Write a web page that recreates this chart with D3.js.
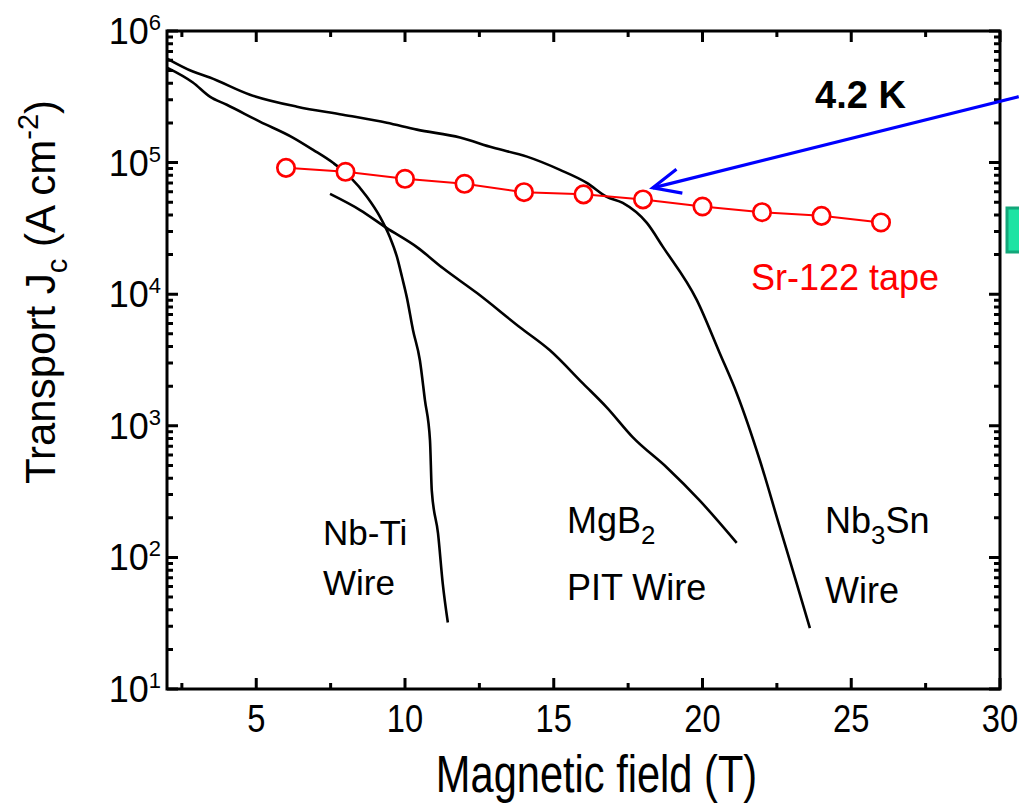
<!DOCTYPE html>
<html>
<head>
<meta charset="utf-8">
<script src="https://cdn.jsdelivr.net/npm/d3@7"></script>
<style>
  html, body { margin: 0; padding: 0; background: #fff; }
  svg { display: block; font-family: Arial, "Liberation Sans", sans-serif; }
</style>
</head>
<body>
<svg id="chart" width="1019" height="809"></svg>
<script>
// ---------- data ----------
const xTicks = [5, 10, 15, 20, 25, 30];
const xMinorTicks = [2.5, 7.5, 12.5, 17.5, 22.5, 27.5];
const yExponents = [1, 2, 3, 4, 5, 6];

const srField = [6, 8, 10, 12, 14, 16, 18, 20, 22, 24, 26];
const srJc = [91200, 85100, 75300, 69000, 59600, 57400, 52500, 46400, 42000, 39400, 35100];

const nbtiField = [2, 2.87, 3.44, 4.01, 5.12, 6.23, 6.91, 7.58, 8.15, 8.72, 9.16, 9.49, 9.73, 9.90, 10.06, 10.27, 10.50, 10.67, 10.84, 10.90, 11.11, 11.27, 11.44];
const nbtiJc = [527000, 406000, 317000, 275000, 205000, 155000, 125000, 99600, 78000, 55000, 38700, 27200, 19200, 13500, 9500, 5330, 3150, 1565, 775, 322, 152, 63, 32];

const nb3snField = [2, 2.87, 3.44, 4.79, 6.37, 7.91, 9.39, 10.40, 11.85, 12.95, 14.10, 15.21, 16.11, 16.78, 17.32, 18.13, 18.67, 19.81, 20.58, 21.15, 21.93, 22.60, 23.17, 23.61];
const nb3snJc = [618000, 492000, 443000, 328000, 266000, 231000, 201000, 178000, 155000, 130000, 111000, 88100, 70200, 54900, 49400, 34800, 22900, 9020, 3560, 1770, 545, 169, 63, 29];

const mgb2Field = [7.48, 8.49, 9.39, 10.40, 11.27, 12.42, 13.86, 14.87, 15.98, 16.78, 17.66, 18.80, 19.91, 21.15];
const mgb2Jc = [57800, 43600, 31800, 22800, 15800, 10200, 5610, 3750, 2100, 1380, 816, 482, 270, 129];

const arrowFrom = [30.63, 317000];
const arrowTo = [18.33, 64300];

// ---------- layout ----------
const L = 167, R = 1000, T = 31, B = 689;
const svg = d3.select("#chart");

const x = d3.scaleLinear().domain([2, 30]).range([L, R]);
const y = d3.scaleLog().domain([10, 1e6]).range([B, T]);

const yMajor = yExponents.map(e => Math.pow(10, e));
const yMinor = [];
for (let e = 1; e < 6; e++) for (let m = 2; m <= 9; m++) yMinor.push(m * Math.pow(10, e));

// ---------- ticks (inward, all four sides) as one path ----------
let td = "";
function addX(vals, len) {
  vals.forEach(v => {
    const px = x(v);
    td += `M${px},${B}L${px},${B - len}`;
    td += `M${px},${T}L${px},${T + len}`;
  });
}
function addY(vals, len) {
  vals.forEach(v => {
    const py = y(v);
    td += `M${L},${py}L${L + len},${py}`;
    td += `M${R},${py}L${R - len},${py}`;
  });
}
addX(xTicks, 11);
addX(xMinorTicks, 6);
addY(yMajor, 11);
addY(yMinor, 6);

// frame
svg.append("rect").attr("x", L).attr("y", T).attr("width", R - L).attr("height", B - T)
  .attr("fill", "none").attr("stroke", "#000").attr("stroke-width", 3);

svg.append("path").attr("class", "ticks").attr("d", td)
  .attr("fill", "none").attr("stroke", "#000").attr("stroke-width", 3);

// x tick labels (condensed look)
xTicks.forEach(v => {
  svg.append("text")
    .attr("transform", `translate(${x(v)},${B + 43}) scale(0.86,1)`)
    .attr("text-anchor", "middle")
    .attr("font-size", 38)
    .text(v);
});

// y tick labels with superscript exponents
yExponents.forEach(e => {
  const t = svg.append("text")
    .attr("x", L - 6).attr("y", y(Math.pow(10, e)) + 13)
    .attr("text-anchor", "end")
    .attr("font-size", 36);
  t.append("tspan").text("10");
  t.append("tspan").attr("font-size", 22).attr("dy", -14).text(e);
});

// axis titles
svg.append("text")
  .attr("transform", `translate(${(L + R) / 2 + 13},792) scale(0.8,1)`)
  .attr("text-anchor", "middle")
  .attr("font-size", 52)
  .text("Magnetic field (T)");

const yt = svg.append("text")
  .attr("transform", `translate(55,292) rotate(-90)`)
  .attr("text-anchor", "middle")
  .attr("font-size", 42);
yt.append("tspan").text("Transport J");
yt.append("tspan").attr("font-size", 29).attr("dy", 12).text("c");
yt.append("tspan").attr("dy", -12).text(" (A cm");
yt.append("tspan").attr("font-size", 29).attr("dy", -17).text("-2");
yt.append("tspan").attr("dy", 17).text(")");

// ---------- curves ----------
const line = d3.line().x(d => x(d[0])).y(d => y(d[1])).curve(d3.curveMonotoneX);
function curve(fs, js, color, w) {
  svg.append("path")
    .datum(d3.zip(fs, js))
    .attr("d", line)
    .attr("fill", "none")
    .attr("stroke", color)
    .attr("stroke-width", w)
    .attr("stroke-linejoin", "round");
}
curve(nb3snField, nb3snJc, "#000", 2.6);
curve(nbtiField, nbtiJc, "#000", 2.6);
curve(mgb2Field, mgb2Jc, "#000", 2.6);

// Sr-122 tape
const srLine = d3.line().x(d => x(d[0])).y(d => y(d[1]));
svg.append("path")
  .datum(d3.zip(srField, srJc))
  .attr("d", srLine)
  .attr("fill", "none")
  .attr("stroke", "#ff0000")
  .attr("stroke-width", 2);
svg.selectAll("circle.sr")
  .data(d3.zip(srField, srJc))
  .enter().append("circle")
  .attr("class", "sr")
  .attr("cx", d => x(d[0]))
  .attr("cy", d => y(d[1]))
  .attr("r", 8.7)
  .attr("fill", "#fff")
  .attr("stroke", "#ff0000")
  .attr("stroke-width", 2.7);

// ---------- annotations ----------
function label(lines, xp, yp, size) {
  const t = svg.append("text").attr("x", xp).attr("y", yp).attr("font-size", size).attr("fill", "#000");
  lines.forEach(p => {
    const s = t.append("tspan").text(p.t);
    if (p.sub) s.attr("font-size", size * 0.72).attr("dy", 11);
    if (p.after) s.attr("dy", -11);
  });
  return t;
}
label([{t: "Nb-Ti"}], 323, 545, 35);
label([{t: "Wire"}], 323, 595, 35);
label([{t: "MgB"}, {t: "2", sub: true}], 567, 533, 36);
label([{t: "PIT Wire"}], 567, 600, 36);
label([{t: "Nb"}, {t: "3", sub: true}, {t: "Sn", after: true}], 825, 533, 36);
label([{t: "Wire"}], 825, 603, 36);

svg.append("text").attr("x", 751).attr("y", 290).attr("font-size", 36)
  .attr("fill", "#ff0000").text("Sr-122 tape");
svg.append("text").attr("x", 815).attr("y", 108).attr("font-size", 38)
  .attr("font-weight", "bold").text("4.2 K");

// blue arrow
const ax0 = x(arrowFrom[0]), ay0 = y(arrowFrom[1]);
const ax1 = x(arrowTo[0]), ay1 = y(arrowTo[1]);
svg.append("line")
  .attr("x1", ax0).attr("y1", ay0).attr("x2", ax1).attr("y2", ay1)
  .attr("stroke", "#0000ff").attr("stroke-width", 3.2);
const ang = Math.atan2(ay0 - ay1, ax0 - ax1);
const hl = 30, ha = 0.42;
svg.append("path")
  .attr("d", `M${ax1 + hl * Math.cos(ang + ha)},${ay1 + hl * Math.sin(ang + ha)} L${ax1},${ay1} L${ax1 + hl * Math.cos(ang - ha)},${ay1 + hl * Math.sin(ang - ha)}`)
  .attr("fill", "none").attr("stroke", "#0000ff").attr("stroke-width", 3.2)
  .attr("stroke-linejoin", "miter");

// partial green box at right edge (cropped neighbouring panel)
svg.append("rect").attr("x", 1007).attr("y", 208).attr("width", 20).attr("height", 44)
  .attr("fill", "#1de3a3").attr("stroke", "#13a77a").attr("stroke-width", 3);
</script>
</body>
</html>
